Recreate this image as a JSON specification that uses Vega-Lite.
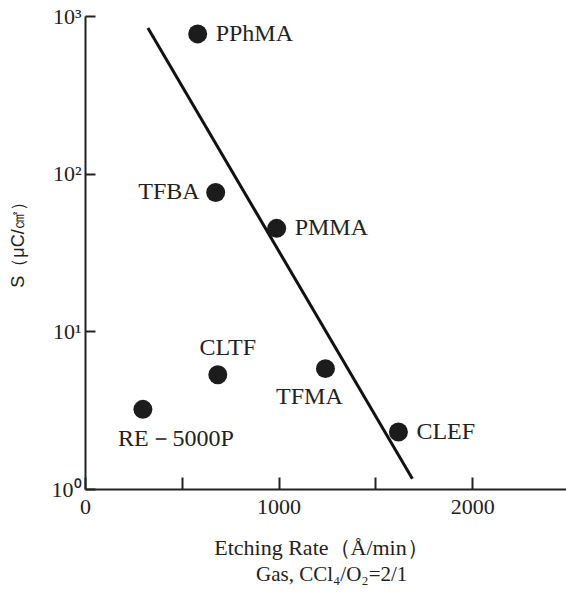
{
  "$schema": "https://vega.github.io/schema/vega-lite/v6.json",
  "width": 484,
  "height": 473,
  "autosize": "none",
  "padding": {"left": 85, "top": 16, "right": 0, "bottom": 111},
  "background": "white",
  "config": {"view": {"stroke": null}, "font": "Liberation Serif"},
  "title": {"text": "Gas, CCl₄/O₂=2/1", "orient": "bottom", "anchor": "start", "dx": 247, "offset": 6, "fontSize": 21, "fontWeight": "normal", "font": "Liberation Serif", "color": "#222"},
  "datasets": {
    "pts": [
      {"name": "PPhMA", "rate": 582, "s": 770},
      {"name": "TFBA", "rate": 675, "s": 76},
      {"name": "PMMA", "rate": 990, "s": 45},
      {"name": "CLTF", "rate": 686, "s": 5.3},
      {"name": "TFMA", "rate": 1242, "s": 5.8},
      {"name": "RE－5000P", "rate": 299, "s": 3.2},
      {"name": "CLEF", "rate": 1619, "s": 2.3}
    ],
    "fit": [
      {"rate": 325, "s": 840},
      {"rate": 1691, "s": 1.16}
    ]
  },
  "encoding": {
    "x": {"field": "rate", "type": "quantitative", "scale": {"domain": [0, 2500], "nice": false, "zero": false},
      "axis": {"values": [0, 500, 1000, 1500, 2000], "labelExpr": "datum.value % 1000 == 0 ? datum.label : ''", "format": "d", "grid": false, "domainColor": "#222", "domainWidth": 2, "tickColor": "#222", "tickWidth": 2, "tickSize": -12, "labelFontSize": 22, "labelColor": "#222", "labelPadding": 19, "labelFont": "Liberation Serif", "labelFlush": false,
        "title": "Etching Rate（Å/min）", "titleFontSize": 22, "titleFontWeight": "normal", "titleColor": "#222", "titleFont": "Liberation Serif", "titlePadding": 20, "titleX": 236}},
    "y": {"field": "s", "type": "quantitative", "scale": {"type": "log", "domain": [1, 1000], "nice": false},
      "axis": {"values": [1, 10, 100, 1000], "labelExpr": "datum.value == 1 ? '10⁰' : datum.value == 10 ? '10¹' : datum.value == 100 ? '10²' : '10³'", "grid": false, "domainColor": "#222", "domainWidth": 2, "tickColor": "#222", "tickWidth": 2, "tickSize": -10, "labelFontSize": 22, "labelColor": "#222", "labelPadding": 14, "labelFont": "Liberation Serif", "labelFlush": false,
        "title": "S（μC/㎠）", "titleFont": "Liberation Sans", "titleFontSize": 18, "titleFontWeight": "normal", "titleColor": "#222", "titlePadding": 24, "titleY": 224}}
  },
  "layer": [
    {"data": {"name": "fit"}, "mark": {"type": "line", "color": "#111", "strokeWidth": 3}, "encoding": {}},
    {"data": {"name": "pts"}, "mark": {"type": "point", "filled": true, "shape": "circle", "size": 360, "color": "#1c1c1c", "opacity": 1}, "encoding": {}},
    {"data": {"name": "pts"}, "transform": [{"filter": "indexof(['PPhMA','PMMA','CLEF'], datum.name) >= 0"}],
      "mark": {"type": "text", "align": "left", "baseline": "middle", "dx": 18, "fontSize": 24, "color": "#222"}, "encoding": {"text": {"field": "name"}}},
    {"data": {"name": "pts"}, "transform": [{"filter": "datum.name == 'TFBA'"}],
      "mark": {"type": "text", "align": "right", "baseline": "middle", "dx": -16, "fontSize": 24, "color": "#222"}, "encoding": {"text": {"field": "name"}}},
    {"data": {"name": "pts"}, "transform": [{"filter": "datum.name == 'CLTF'"}],
      "mark": {"type": "text", "align": "center", "baseline": "middle", "dx": 10, "dy": -27, "fontSize": 24, "color": "#222"}, "encoding": {"text": {"field": "name"}}},
    {"data": {"name": "pts"}, "transform": [{"filter": "datum.name == 'TFMA'"}],
      "mark": {"type": "text", "align": "center", "baseline": "middle", "dx": -16, "dy": 28, "fontSize": 24, "color": "#222"}, "encoding": {"text": {"field": "name"}}},
    {"data": {"name": "pts"}, "transform": [{"filter": "datum.name == 'RE－5000P'"}],
      "mark": {"type": "text", "align": "center", "baseline": "middle", "dx": 33, "dy": 30, "fontSize": 24, "color": "#222"}, "encoding": {"text": {"field": "name"}}},
    {"data": {"values": [{}]}, "mark": {"type": "rule", "color": "#222", "strokeWidth": 2}, "encoding": {"y": {"datum": 1000}}}
  ]
}
